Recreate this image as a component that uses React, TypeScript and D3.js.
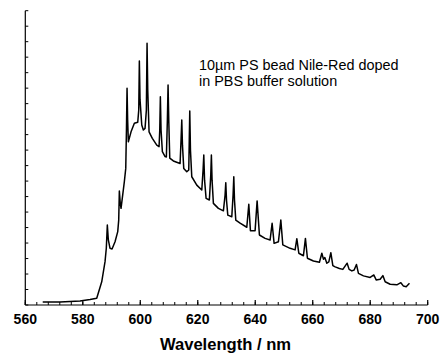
import React from "react";
import * as d3 from "d3";

const wavelength = [
  566.06, 572.08, 579.04, 582.52, 584.85, 586.59, 587.74, 588.19, 588.54, 588.89,
  589.48, 590.18, 591.22, 592.16, 592.5, 592.72, 593.03, 593.31, 594.46, 594.95,
  595.19, 595.4, 595.61, 595.85, 596.79, 597.94, 599.12, 599.47, 599.68, 599.92,
  600.52, 601.07, 601.66, 602.12, 602.36, 602.6, 603.06, 604.2, 605.74, 606.54,
  606.78, 606.99, 607.23, 607.69, 608.63, 609.08, 609.43, 609.67, 609.91, 610.26,
  611.51, 613.85, 614.19, 614.44, 614.68, 615.13, 616.18, 616.87, 617.05, 617.22,
  617.46, 617.92, 619.66, 621.4, 621.85, 622.1, 622.37, 622.9, 624.04, 624.53,
  624.74, 624.98, 625.44, 627.18, 628.92, 629.51, 629.75, 630.0, 630.45, 631.84,
  632.29, 632.54, 632.78, 633.23, 634.73, 637.06, 637.76, 638.32, 639.95, 640.65,
  641.45, 643.43, 645.17, 645.87, 646.56, 648.06, 648.9, 649.59, 652.13, 653.87,
  654.47, 655.16, 656.76, 657.46, 658.15, 660.24, 662.33, 663.17, 663.72, 664.21,
  664.91, 665.6, 666.3, 667.0, 667.8, 669.29, 670.48, 671.97, 672.67, 673.61,
  674.41, 675.21, 675.91, 677.65, 679.98, 681.27, 682.07, 683.46, 684.4, 685.2,
  686.94, 689.27, 690.66, 691.57, 692.51, 693.66,
];

const intensity = [
  10, 10, 13, 18, 22, 75, 140, 184, 258, 210,
  183, 181, 204, 237, 274, 368, 329, 312, 398, 441,
  565, 700, 597, 527, 559, 587, 590, 629, 788, 662,
  581, 565, 570, 629, 845, 694, 559, 538, 516, 511,
  565, 672, 565, 495, 479, 478, 597, 710, 597, 474,
  465, 457, 533, 597, 516, 441, 430, 436, 533, 626,
  500, 414, 387, 371, 436, 484, 403, 344, 339, 420,
  484, 403, 328, 312, 304, 355, 395, 339, 290, 285,
  355, 414, 339, 274, 264, 251, 325, 240, 240, 336,
  226, 215, 210, 264, 199, 204, 274, 194, 183, 178,
  214, 167, 159, 215, 151, 142, 138, 167, 148, 153,
  135, 139, 169, 127, 123, 118, 115, 135, 115, 110,
  113, 131, 102, 94, 89, 97, 81, 83, 95, 75,
  67, 65, 72, 61, 59, 70,
];

const xMajorTicks = [560, 580, 600, 620, 640, 660, 680, 700];
const xMinorStep = 4;
const yTickStep = 50;
const yMax = 950;

const annotationLines = ["10\u00b5m PS bead Nile-Red doped", "in PBS buffer solution"];
const xTitle = "Wavelength / nm";

export default function App() {
  const W = 442;
  const H = 354;
  const x = d3.scaleLinear().domain([560, 700]).range([25.3, 427.7]);
  const y = d3.scaleLinear().domain([0, yMax]).range([305, 10.7]);
  const data = wavelength.map((w, i) => [w, intensity[i]] as [number, number]);
  const line = d3
    .line<[number, number]>()
    .x((d) => x(d[0]))
    .y((d) => y(d[1]))
    .curve(d3.curveLinear);
  const minor = d3.range(560, 700.001, xMinorStep);
  const yTicks = d3.range(0, yMax + 0.001, yTickStep);
  const font = "'Liberation Sans', Arial, Helvetica, sans-serif";

  return (
    <svg
      width={W}
      height={H}
      style={{ position: "absolute", left: 0, top: 0, background: "#fff" }}
    >
      <rect width={W} height={H} fill="#fff" />
      <line x1={x(560)} x2={x(560)} y1={y(0)} y2={y(yMax)} stroke="#000" strokeWidth={1.2} />
      <line x1={x(560)} x2={x(700)} y1={y(0)} y2={y(0)} stroke="#000" strokeWidth={1.2} />
      {yTicks.map((t) => (
        <line key={"y" + t} x1={x(560)} x2={x(560) + 3} y1={y(t)} y2={y(t)} stroke="#000" strokeWidth={1} />
      ))}
      {minor.map((t) => (
        <line key={"m" + t} x1={x(t)} x2={x(t)} y1={y(0)} y2={y(0) - 3} stroke="#000" strokeWidth={1} />
      ))}
      {xMajorTicks.map((t) => (
        <g key={"M" + t}>
          <line x1={x(t)} x2={x(t)} y1={y(0)} y2={y(0) - 5} stroke="#000" strokeWidth={1.2} />
          <text
            x={x(t)}
            y={324}
            textAnchor="middle"
            fontFamily={font}
            fontWeight="bold"
            fontSize={14}
            fill="#000"
          >
            {t}
          </text>
        </g>
      ))}
      <text
        x={225.5}
        y={349.5}
        textAnchor="middle"
        fontFamily={font}
        fontWeight="bold"
        fontSize={16.6}
        fill="#000"
      >
        {xTitle}
      </text>
      {annotationLines.map((s, i) => (
        <text key={s} x={199} y={70 + i * 16} fontFamily={font} fontSize={14.4} fill="#000">
          {s}
        </text>
      ))}
      <path d={line(data) || ""} fill="none" stroke="#000" strokeWidth={1.5} strokeLinejoin="round" />
    </svg>
  );
}
